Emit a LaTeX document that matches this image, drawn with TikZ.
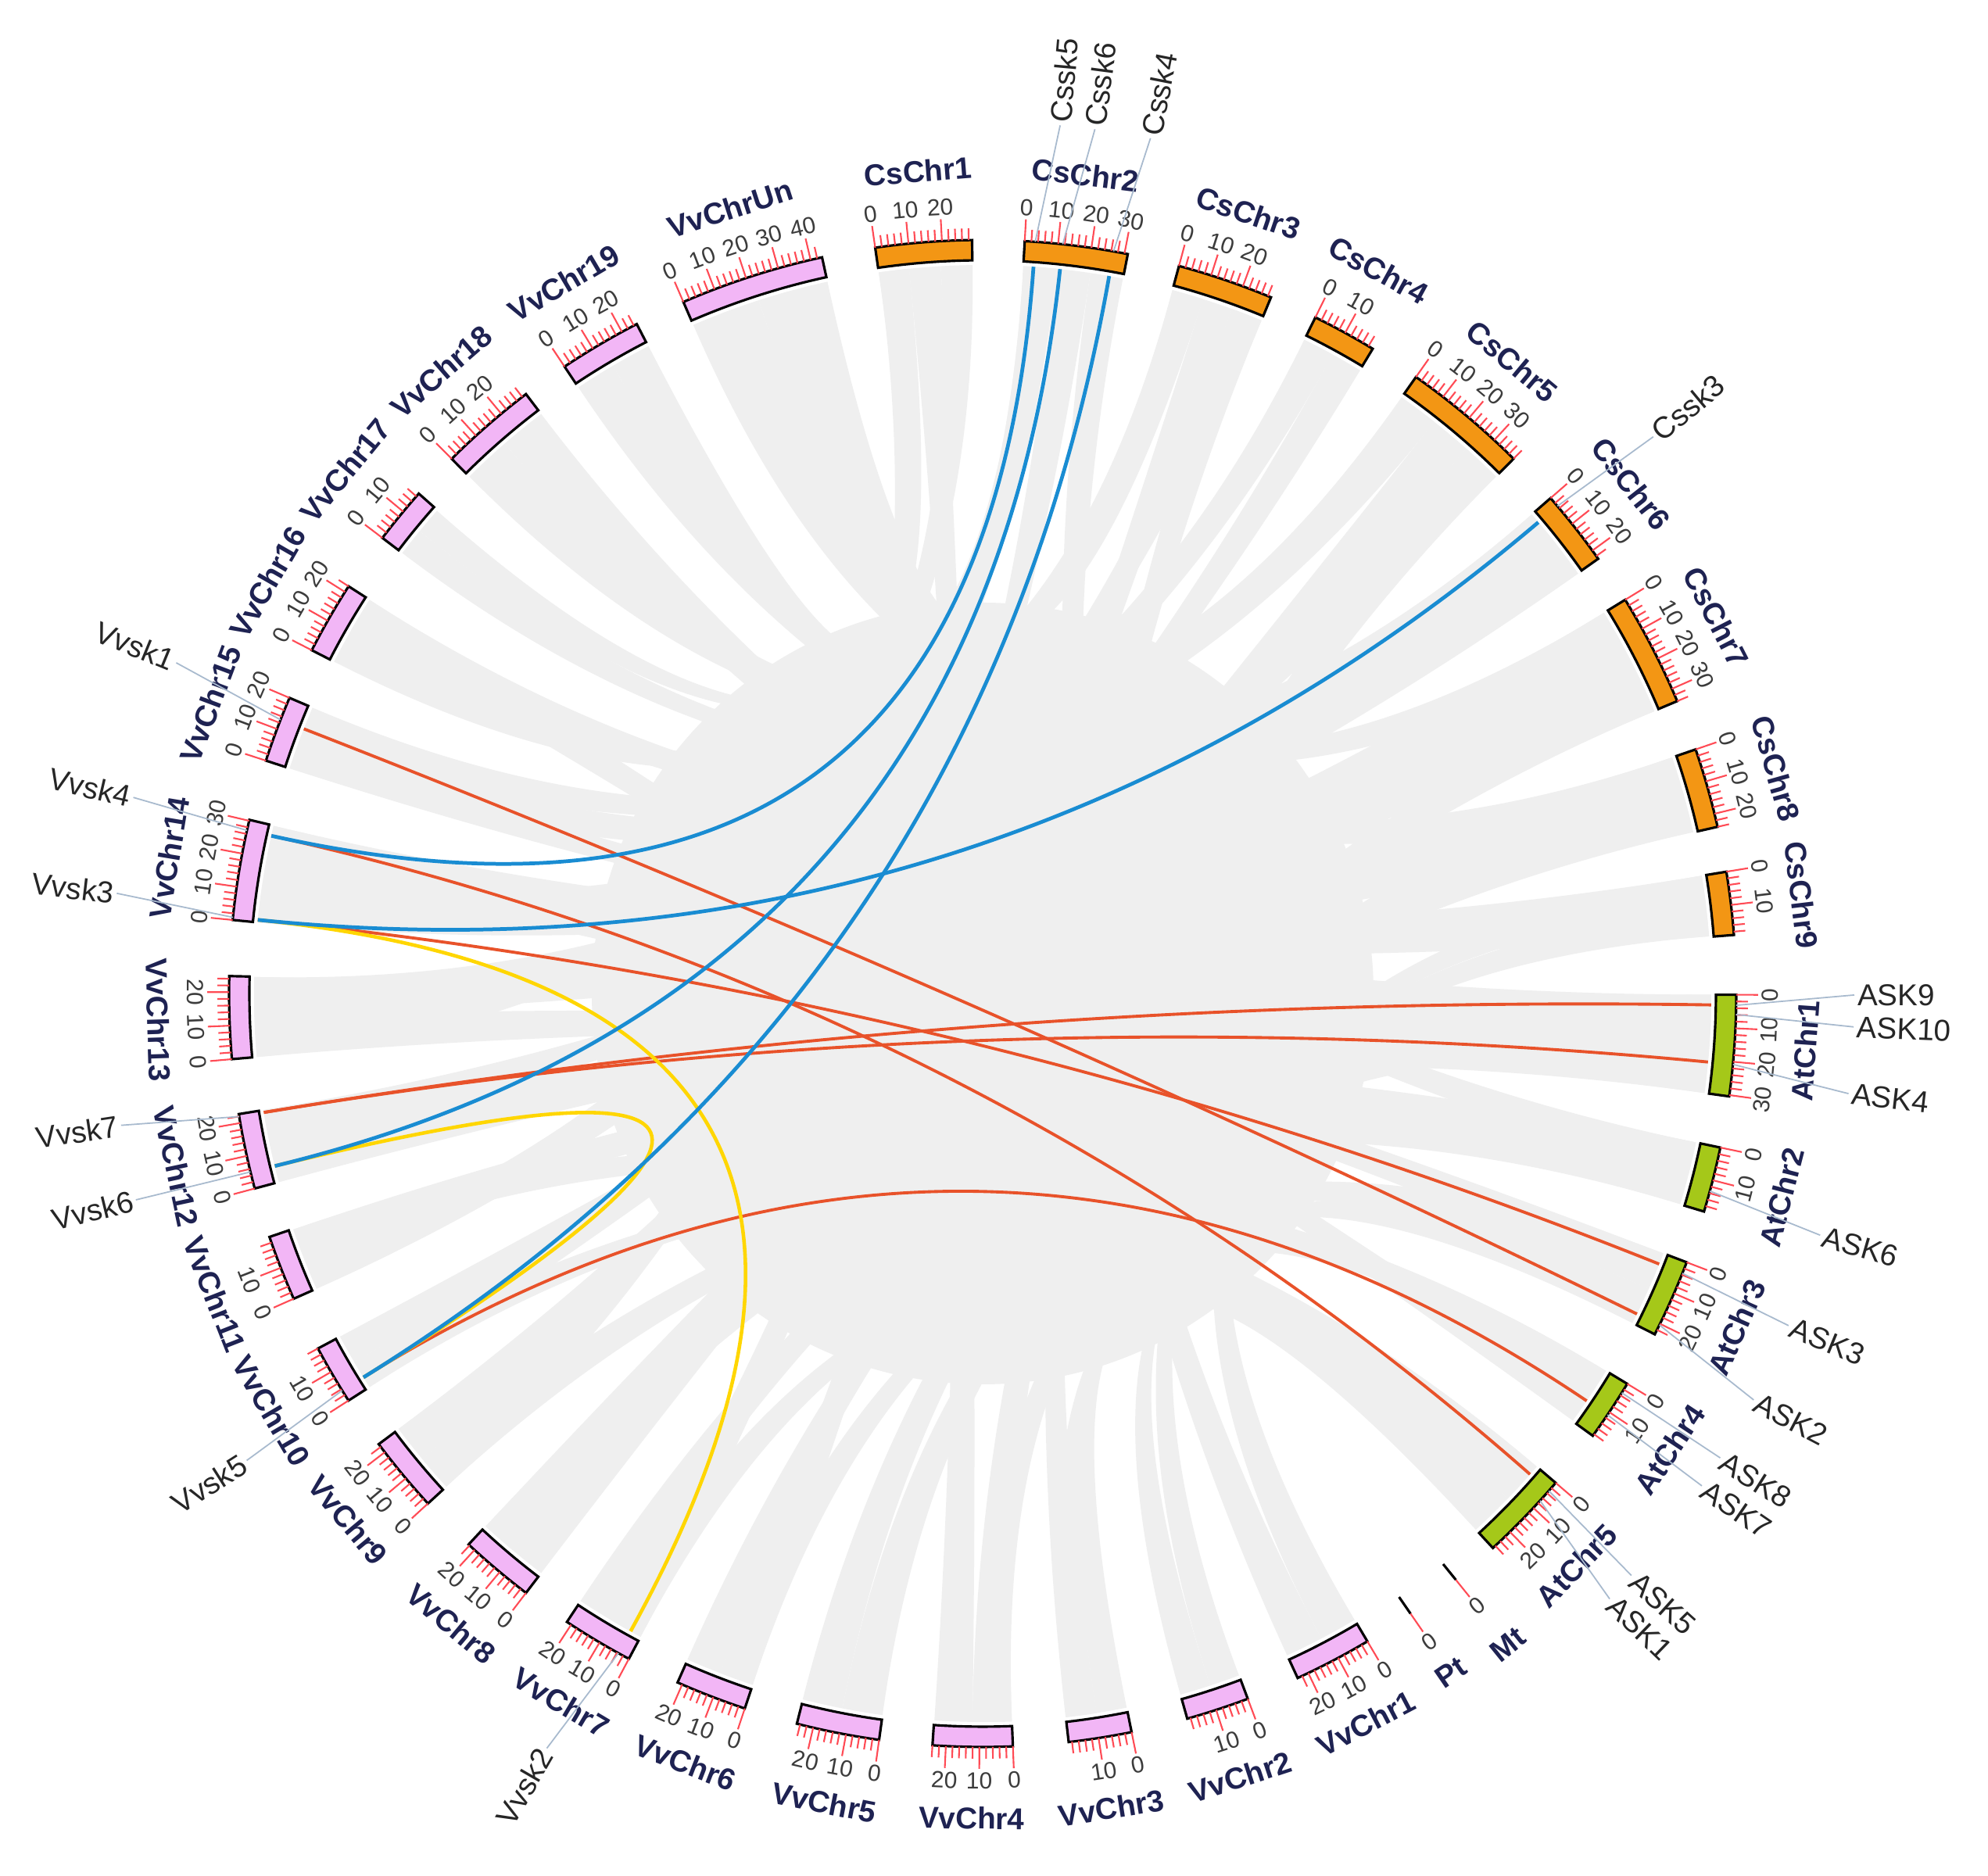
\documentclass[tikz,border=0pt]{standalone}
\usepackage{fontspec}
\setmainfont{Liberation Sans}

\definecolor{vvpink}{RGB}{242,182,246}
\definecolor{csorange}{RGB}{243,150,20}
\definecolor{atgreen}{RGB}{165,200,25}
\definecolor{tickred}{RGB}{255,75,85}
\definecolor{ribgrey}{RGB}{239,239,239}
\definecolor{linkblue}{RGB}{25,140,210}
\definecolor{linkred}{RGB}{232,82,42}
\definecolor{linkyellow}{RGB}{255,214,0}
\definecolor{chrnavy}{RGB}{30,34,82}
\definecolor{ticktext}{RGB}{60,60,60}
\definecolor{conngrey}{RGB}{168,186,206}

\newcommand{\rin}{9.38}
\newcommand{\rout}{9.64}
\newcommand{\rlink}{9.32}
\newcommand{\rctrl}{3.11}

\tikzset{
  ribbon/.style={fill=ribgrey},
  chrbox/.style={draw=black, line width=0.9pt},
  tickline/.style={draw=tickred, line width=0.6pt},
  ticklab/.style={text=ticktext, font=\fontsize{8.5}{10}\selectfont, inner sep=0pt},
  chrlab/.style={text=chrnavy, font=\fontsize{11}{13}\selectfont\bfseries, inner sep=0pt},
  genelab/.style={text=black!85, font=\fontsize{11}{13}\selectfont, inner sep=1pt},
  connector/.style={draw=conngrey, line width=0.5pt},
  syn/.style={line width=1.1pt},
}

% grey synteny block between two arcs
\newcommand{\ribbon}[4]{%
  \fill[ribbon] (#1:\rlink) arc[start angle=#1, end angle=#2, radius=\rlink]
    .. controls (#2:\rctrl) and (#3:\rctrl) .. (#3:\rlink)
    arc[start angle=#3, end angle=#4, radius=\rlink]
    .. controls (#4:\rctrl) and (#1:\rctrl) .. (#1:\rlink) -- cycle;}
% gene pair link
\newcommand{\synlink}[3]{%
  \draw[syn, #1] (#2:\rlink) .. controls (#2:\rctrl) and (#3:\rctrl) .. (#3:\rlink);}

\begin{document}
\begin{tikzpicture}
    \useasboundingbox (-12.57,-11.29) rectangle (12.86,12.71);
    \fill[white] (-12.57,-11.29) rectangle (12.86,12.71);

    % grey synteny blocks
    \fill[ribgrey] (0,0) circle (5.0);
    \foreach \pa/\pb/\pc/\pd in {98.2/95.8/-137.4/-140.3, 95.8/93.3/-90.8/-93.8,
        93.3/90.8/-175/-178.2, 86.8/84.2/-156.1/-158.6, 84.2/81.5/-118/-120.7,
        81.5/78.9/-62.3/-65.3, 74.9/72.4/-207.1/-209.9, 72.4/70/-108.4/-111.1,
        70/67.5/-81/-83.45, 63.8/61.3/-178.2/-181.3, 61.3/58.8/-140.3/-143.3,
        54.9/51.7/-225.2/-229, 51.7/48.4/-127.3/-130.2, 48.4/45.2/-87.7/-90.8,
        41.1/38.1/-217.2/-219.4, 38.1/35.2/-167.9/-170.8, 31.5/28.6/-246.6/-252.1,
        28.6/25.7/-185.6/-189.5, 25.7/22.8/-111.1/-113.9, 18.9/15.8/-236.3/-239.5,
        15.8/12.8/-120.7/-123.5, 9.3/6.9/-165/-167.9, 6.9/4.5/-69.4/-71.8,
        -0.1/-2.7/-198/-200.5, -2.7/-5.3/-97.9/-101.1, -5.3/-7.85/-175/-178.2,
        -11.8/-14.3/-229/-232.7, -14.3/-16.8/-137.4/-140.3, -20.9/-23.9/-189.5/-193.3,
        -23.9/-26.9/-71.8/-74.25, -31.2/-33.5/-147.3/-149.6, -33.5/-35.9/-209.9/-212.7,
        -40.5/-43.9/-158.6/-161.1, -43.9/-47.4/-78.6/-81, 98.2/95.8/-239.5/-242.7,
        86.8/84.2/-219.4/-221.5, 74.9/72.4/-252.1/-257.7, 54.9/51.7/-200.5/-203.1,
        31.5/28.6/-149.6/-151.9, 18.9/15.8/-101.1/-104.3, 9.3/6.9/-59.3/-62.3,
        -0.1/-2.7/-130.2/-133, -20.9/-23.9/-108.4/-111.1, -40.5/-43.9/-118/-120.7,
        -11.8/-14.3/-87.7/-90.8, 63.8/61.3/-185.6/-189.5, 41.1/38.1/-130.2/-133,
        48.4/45.2/-147.3/-149.6, 70/67.5/-156.1/-158.6, -31.2/-33.5/-81/-83.45,
        18.9/12.8/-178.2/-181.3, 9.3/4.5/-189.5/-193.3, -11.8/-16.8/-167.9/-170.8,
        31.5/22.8/-165/-168, -0.1/-7.85/-158.6/-161.1, 41.1/35.2/-198/-201,
        25.7/22.8/-209.9/-212.7}
        {\ribbon{\pa}{\pb}{\pc}{\pd}}

    % Vv - At pairs
    \synlink{linkred}{158.7}{-26.1}
    \synlink{linkred}{167.5}{-41.3}
    \synlink{linkred}{174.2}{-21.8}
    \synlink{linkred}{189.4}{-0.9}
    \synlink{linkred}{189.4}{-5.4}
    \synlink{linkred}{211.8}{-34.0}
    % Vv - Vv pairs
    \synlink{linkyellow, line width=1.3pt}{174.2}{241.1}
    \synlink{linkyellow, line width=1.3pt}{193.7}{211.8}
    % Cs - Vv pairs
    \synlink{linkblue, line width=1.35pt}{86.0}{167.5}
    \synlink{linkblue, line width=1.35pt}{83.9}{193.7}
    \synlink{linkblue, line width=1.35pt}{80.0}{211.8}
    \synlink{linkblue, line width=1.35pt}{40.3}{174.2}

    % chromosomes with ticks (2 Mb) and labels
    \foreach \nm/\s/\len/\col in {CsChr1/98.2/29/csorange, CsChr2/86.8/31/csorange,
        CsChr3/74.9/29/csorange, CsChr4/63.8/19.5/csorange, CsChr5/54.9/38/csorange,
        CsChr6/41.1/23/csorange, CsChr7/31.5/34/csorange, CsChr8/18.9/24/csorange,
        CsChr9/9.3/19/csorange,
        AtChr1/-0.1/30.4/atgreen, AtChr2/-11.8/19.7/atgreen, AtChr3/-20.9/23.5/atgreen,
        AtChr4/-31.2/18.6/atgreen, AtChr5/-40.5/27/atgreen,
        VvChr1/-59.3/23.5/vvpink, VvChr2/-69.4/19/vvpink, VvChr3/-78.6/19/vvpink,
        VvChr4/-87.7/24/vvpink, VvChr5/-97.9/25/vvpink, VvChr6/-108.4/21.5/vvpink,
        VvChr7/-118/21.5/vvpink, VvChr8/-127.3/22.4/vvpink, VvChr9/-137.4/23/vvpink,
        VvChr10/-147.3/18/vvpink, VvChr11/-156.1/19.8/vvpink, VvChr12/-165/22.7/vvpink,
        VvChr13/-175/24.8/vvpink, VvChr14/-185.6/30.3/vvpink, VvChr15/-198/20/vvpink,
        VvChr16/-207.1/22/vvpink, VvChr17/-217.2/17.1/vvpink, VvChr18/-225.2/29.4/vvpink,
        VvChr19/-236.3/25/vvpink, VvChrUn/-246.6/43.5/vvpink}{
      \pgfmathsetmacro{\chend}{\s-0.255*\len}
      \pgfmathsetmacro{\chmid}{(\s+\chend)/2}
      \pgfmathsetmacro{\rot}{sin(\chmid)>0.05 ? \chmid-90 : \chmid+90}
      \filldraw[chrbox, fill=\col] (\s:\rin) arc[start angle=\s, end angle=\chend, radius=\rin]
          -- (\chend:\rout) arc[start angle=\chend, end angle=\s, radius=\rout] -- cycle;
      \node[chrlab, rotate=\rot] (\nm) at (\chmid:10.55) {\nm};
      \pgfmathtruncatemacro{\nmax}{\len}
      \foreach \v in {0,2,...,\nmax}{
        \pgfmathsetmacro{\ang}{\s-0.255*\v}
        \pgfmathtruncatemacro{\ismajor}{mod(\v,10)==0}
        \ifnum\ismajor=1
          \draw[tickline] (\ang:\rout) -- (\ang:9.92);
          \pgfmathsetmacro{\trot}{sin(\ang)>0.05 ? \ang-90 : \ang+90}
          \node[ticklab, rotate=\trot] at (\ang:10.07) {\v};
        \else
          \draw[tickline] (\ang:\rout) -- (\ang:9.79);
        \fi
      }
    }

    % Mt and Pt
    \draw[line width=0.9pt] (-51.1:\rin) -- (-51.1:\rout);
    \draw[tickline] (-51.1:\rout) -- (-51.1:9.92);
    \node[ticklab, rotate=38.9] at (-51.1:10.07) {0};
    \node[chrlab, rotate=38.9] (Mt) at (-51.1:10.7) {Mt};
    \draw[line width=0.9pt] (-55.4:\rin) -- (-55.4:\rout);
    \draw[tickline] (-55.4:\rout) -- (-55.4:9.92);
    \node[ticklab, rotate=34.6] at (-55.4:10.07) {0};
    \node[chrlab, rotate=34.6] (Pt) at (-55.4:10.55) {Pt};

    % SKP1 gene labels
    \foreach \gn/\tg/\tl in {Cssk5/86.0/84.9, Cssk6/83.9/82.6, Cssk4/80.0/78.9,
        Cssk3/40.3/39.7, Vvsk1/158.7/157.7, Vvsk4/167.5/167.0, Vvsk3/174.2/173.4,
        Vvsk7/189.4/188.7, Vvsk6/193.7/193.7, Vvsk5/211.8/212.4, Vvsk2/241.1/240.0,
        ASK9/-0.9/-0.1, ASK10/-1.6/-2.2, ASK4/-5.4/-6.6, ASK6/-15.2/-16.1,
        ASK3/-21.8/-22.4, ASK2/-26.1/-27.8, ASK8/-32.0/-32.2, ASK7/-34.0/-34.4,
        ASK5/-41.3/-41.9, ASK1/-42.3/-44.0}{
      \pgfmathtruncatemacro{\onright}{cos(\tl)>0}
      \coordinate (g-\gn) at (\tg:\rout);
      \ifnum\onright=1
        \node[genelab, anchor=west, rotate=\tl] (l-\gn) at (\tl:11.15) {\gn};
        \draw[connector] (g-\gn) -- (l-\gn.west);
      \else
        \pgfmathsetmacro{\grot}{\tl+180}
        \node[genelab, anchor=east, rotate=\grot] (l-\gn) at (\tl:11.15) {\gn};
        \draw[connector] (g-\gn) -- (l-\gn.east);
      \fi
    }
\end{tikzpicture}
\end{document}
